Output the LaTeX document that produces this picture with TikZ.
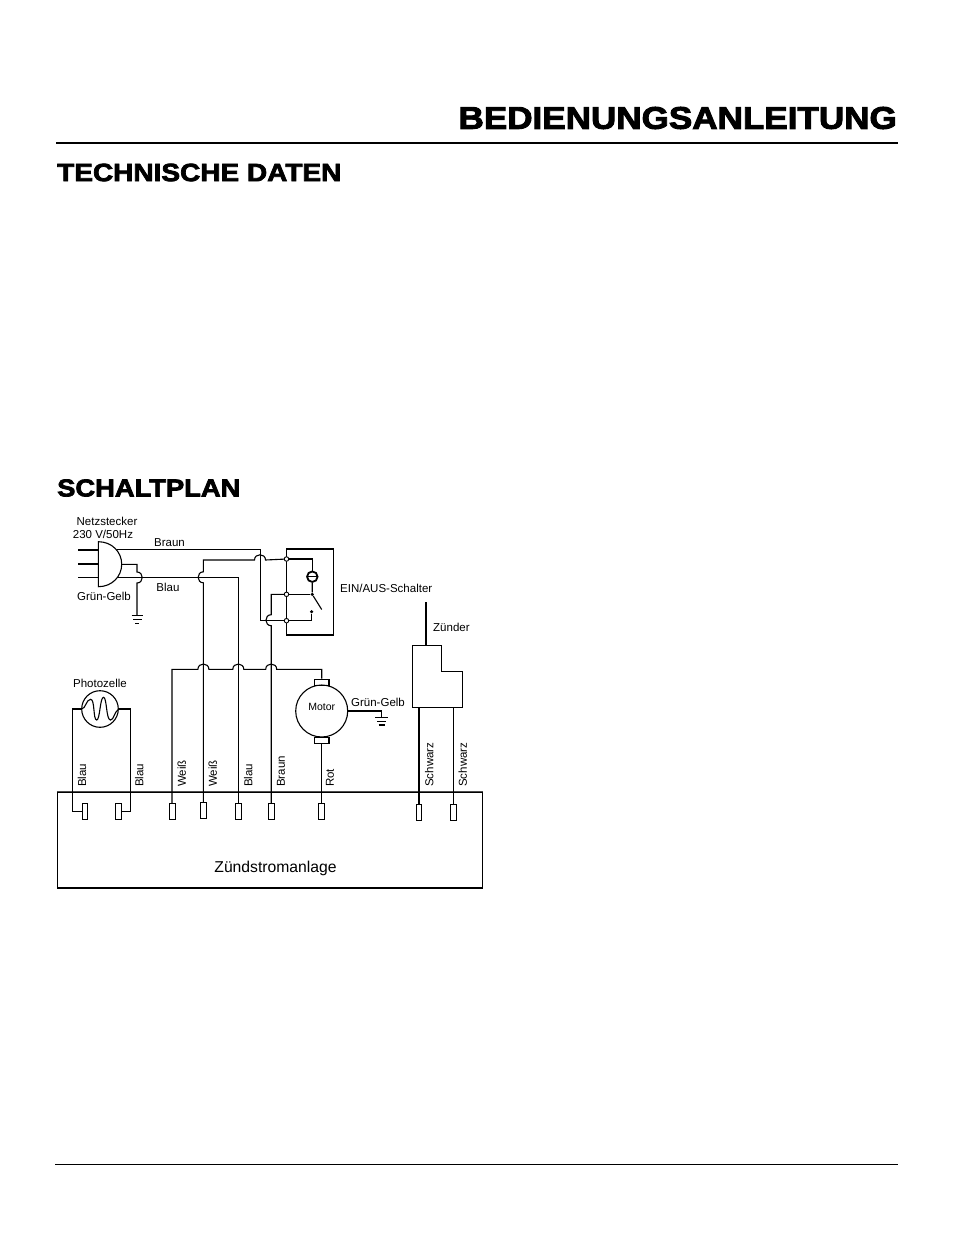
\documentclass[tikz,border=0pt]{standalone}
\usepackage{fontspec}
\setmainfont{Liberation Sans}
\newfontfamily\headfont[BoldFeatures={FakeBold=3,FakeStretch=1.12}]{Liberation Sans}

% wire hops, all of them span the crossing wire
\newcommand{\hopup}{.. controls +(0,-7) and +(0,-7) .. ++(11,0)}
\newcommand{\hopleft}{.. controls +(-7,0) and +(-7,0) .. ++(0,-11)}
\newcommand{\hopright}{.. controls +(7,0) and +(7,0) .. ++(0,11)}

\tikzset{
	terminal/.style={draw, fill=white, minimum width=5.5, minimum height=16, inner sep=0},
	joint/.style={draw, circle, fill=white, minimum size=4.5, inner sep=0, line width=0.9},
	dot/.style={circle, fill=black, minimum size=3.5, inner sep=0},
	label/.style={font=\fontsize{11.5}{13}\selectfont, inner sep=0},
	vlabel/.style={label, rotate=90, anchor=west},
	heading/.style={font=\headfont\bfseries\fontsize{25}{26}\selectfont, inner sep=0, anchor=west},
	wire/.style={line width=1.1},
	bigwire/.style={line width=2},
}

\begin{document}
\begin{tikzpicture}[x=1pt, y=-1pt, line join=miter, every node/.style={font=\fontsize{11.5}{13}\selectfont}]
	\useasboundingbox (0,0) rectangle (954,1235);

	% Page heads
	\node[heading, anchor=east, font=\headfont\bfseries\fontsize{31.3}{33}\selectfont] (title) at (897,118) {BEDIENUNGSANLEITUNG};
	\node[heading] (tech) at (57,172.5) {TECHNISCHE DATEN};
	\node[heading, font=\headfont\bfseries\fontsize{24.4}{26}\selectfont] (plan) at (57,488) {SCHALTPLAN};
	\draw[line width=2] (56,143) -- (898,143);
	\draw[line width=1] (55,1164) -- (898,1164);

	% Main unit
	\node[draw, line width=1.1, minimum width=425, minimum height=96, inner sep=0] (unit) at (270,840) {};
	\draw[line width=1.7, black!70] (unit.north west) -- (unit.north east);
	\node[label, font=\fontsize{15.7}{17}\selectfont] (unitname) at (275.5,868) {Zündstromanlage};

	% Terminals
	\node[terminal] (tblau1) at (84.7,811.3) {};
	\node[terminal] (tblau2) at (118.2,811.3) {};
	\node[terminal] (tweiss1) at (172,811.3) {};
	\node[terminal] (tweiss2) at (203.4,810) {};
	\node[terminal] (tblau3) at (238.3,811.3) {};
	\node[terminal] (tbraun) at (271.2,811.3) {};
	\node[terminal] (trot) at (321,811.3) {};
	\node[terminal] (tschw1) at (418.8,812) {};
	\node[terminal] (tschw2) at (453.2,812) {};

	% Plug
	\draw[wire, fill=white] (98.3,541.7) .. controls (112,541.7) and (121.7,552) .. (121.7,564.2)
		.. controls (121.7,576.5) and (112,586.7) .. (98.3,586.7) -- cycle;
	\coordinate (plugtop) at (117,549.3);
	\coordinate (plugmid) at (121.7,564.3);
	\coordinate (plugbot) at (117,577.3);
	\draw[wire] (78,550) -- (98.3,550);
	\draw[bigwire] (78,564.3) -- (98.3,564.3);
	\draw[wire] (78,577.3) -- (98.3,577.3);
	\node[label] (netz1) at (107,521) {Netzstecker};
	\node[label] (netz2) at (103,534) {230 V/50Hz};
	\node[label] (braun) at (169.5,542.5) {Braun};
	\node[label] (blau) at (168,587) {Blau};
	\node[label] (gruen1) at (104,596) {Grün-Gelb};

	% Ground of the plug
	\coordinate (gnda) at (137,615.7);
	\draw[wire] (plugmid) -| (137,572) \hopright -- (gnda);
	\draw[wire] (131.7,615.7) -- (143.3,615.7);
	\draw[wire] (133.3,619.4) -- (141.7,619.4);
	\draw[wire] (135,623.2) -- (139,623.2);

	% Switch box
	\draw[wire] (286.7,549) rectangle (333.3,635);
	\draw[line width=1.6] (286.7,549) -- (333.3,549);
	\node[joint] (sw1) at (286.5,559) {};
	\node[joint] (sw2) at (286.5,594.3) {};
	\node[joint] (sw3) at (286.5,620.7) {};
	\node[dot] (sw4) at (312.2,594.3) {};
	\node[dot] (sw5) at (311.7,611.7) {};
	\coordinate (sw6) at (321.7,609.5);
	\node[draw, circle, line width=1.8, minimum size=10.5, inner sep=0] (fuse) at (312.3,576.7) {};
	\draw[line width=1.2] (307,576.7) -- (317.6,576.7);
	\node[label, anchor=west] (swname) at (340,588) {EIN/AUS-Schalter};
	\draw[bigwire, line width=1.3] (sw1) -| (fuse);
	\draw[wire] (fuse) -- (sw4) -- (sw6);
	\draw[wire] (sw2) -- (sw4);
	\draw[bigwire, line width=1.4] (sw3) -| (sw5);

	% Mains wires
	\draw[wire] (plugtop) -- (260.5,549.3) -- (260.5,620.7) -- (sw3);
	\draw[wire] (plugbot) -- (238.3,577.3) -- (tblau3);
	\draw[wire] (tweiss2) -- (203.4,582.8) \hopleft -- (203.4,560) -- (254.5,560) \hopup -- (sw1);
	\draw[wire] (tbraun) -- (271.2,625.7) \hopleft -- (271.2,594.3) -- (sw2);

	% Motor
	\node[draw, circle, minimum size=52, inner sep=0, line width=1.1] (motor) at (321.7,711) {};
	\node[label, font=\fontsize{10.5}{12}\selectfont] (motorname) at (321.7,707) {Motor};
	\node[draw, line width=1.1, minimum width=14.5, minimum height=6.5, inner sep=0] (mtop) at (321.7,682.5) {};
	\node[draw, line width=1.1, minimum width=14.5, minimum height=6, inner sep=0] (mbot) at (321.7,740.3) {};
	\draw[wire] (tweiss1) |- (197.9,669.3) \hopup -- (232.8,669.3) \hopup -- (265.7,669.3) \hopup -- (321.7,669.3) -- (mtop);
	\draw[wire] (mbot) -- (trot.north -| mbot);
	\node[label] (gruen2) at (378,702) {Grün-Gelb};
	\coordinate (gndb) at (381.7,717.3);
	\draw[wire] (motor) ++(26,0) -| (gndb);
	\draw[wire] (375,717.3) -- (388.3,717.3);
	\draw[wire] (377.3,721.2) -- (386,721.2);
	\draw[wire] (378.7,725) -- (384.5,725);

	% Photocell
	\node[draw, circle, minimum size=36.6, inner sep=0, line width=1.1] (cell) at (100,709) {};
	\node[label] (cellname) at (100,683) {Photozelle};
	\draw[wire] (cell.west) .. controls (86,709) and (86,699.3) .. (90.7,699.3)
		.. controls (95,699.3) and (93,720) .. (96.7,720)
		.. controls (100,720) and (100,697.3) .. (103.5,697.3)
		.. controls (107,697.3) and (106,720) .. (110.5,720)
		.. controls (114,720) and (114,712) .. (cell.east);
	\draw[wire] (cell.west) -- (72.7,709) |- (tblau1.west);
	\draw[wire] (cell.east) -- (130.3,709) |- (tblau2.east);

	% Igniter
	\draw[wire] (412.7,645.7) -- (441.7,645.7) -- (441.7,671.7) -- (462.7,671.7) -- (462.7,707.3) -- (412.7,707.3) -- cycle;
	\coordinate (igntop) at (425.7,602.3);
	\coordinate (ignend) at (425.7,645.7);
	\draw[line width=2] (igntop) -- (ignend);
	\node[label, anchor=west] (ignname) at (433,627) {Zünder};
	\draw[line width=2] (418.8,707.3) -- (tschw1);
	\draw[wire] (453.2,707.3) -- (tschw2);

	% Wire colours
	\node[vlabel] (lblau1) at (82,787) {Blau};
	\node[vlabel] (lblau2) at (139.3,787) {Blau};
	\node[vlabel] (lweiss1) at (181.7,787) {Weiß};
	\node[vlabel] (lweiss2) at (212.7,787) {Weiß};
	\node[vlabel] (lblau3) at (248.3,787) {Blau};
	\node[vlabel] (lbraun) at (281,787) {Braun};
	\node[vlabel] (lrot) at (330,787) {Rot};
	\node[vlabel] (lschw1) at (429.3,787) {Schwarz};
	\node[vlabel] (lschw2) at (462.7,787) {Schwarz};
\end{tikzpicture}
\end{document}
